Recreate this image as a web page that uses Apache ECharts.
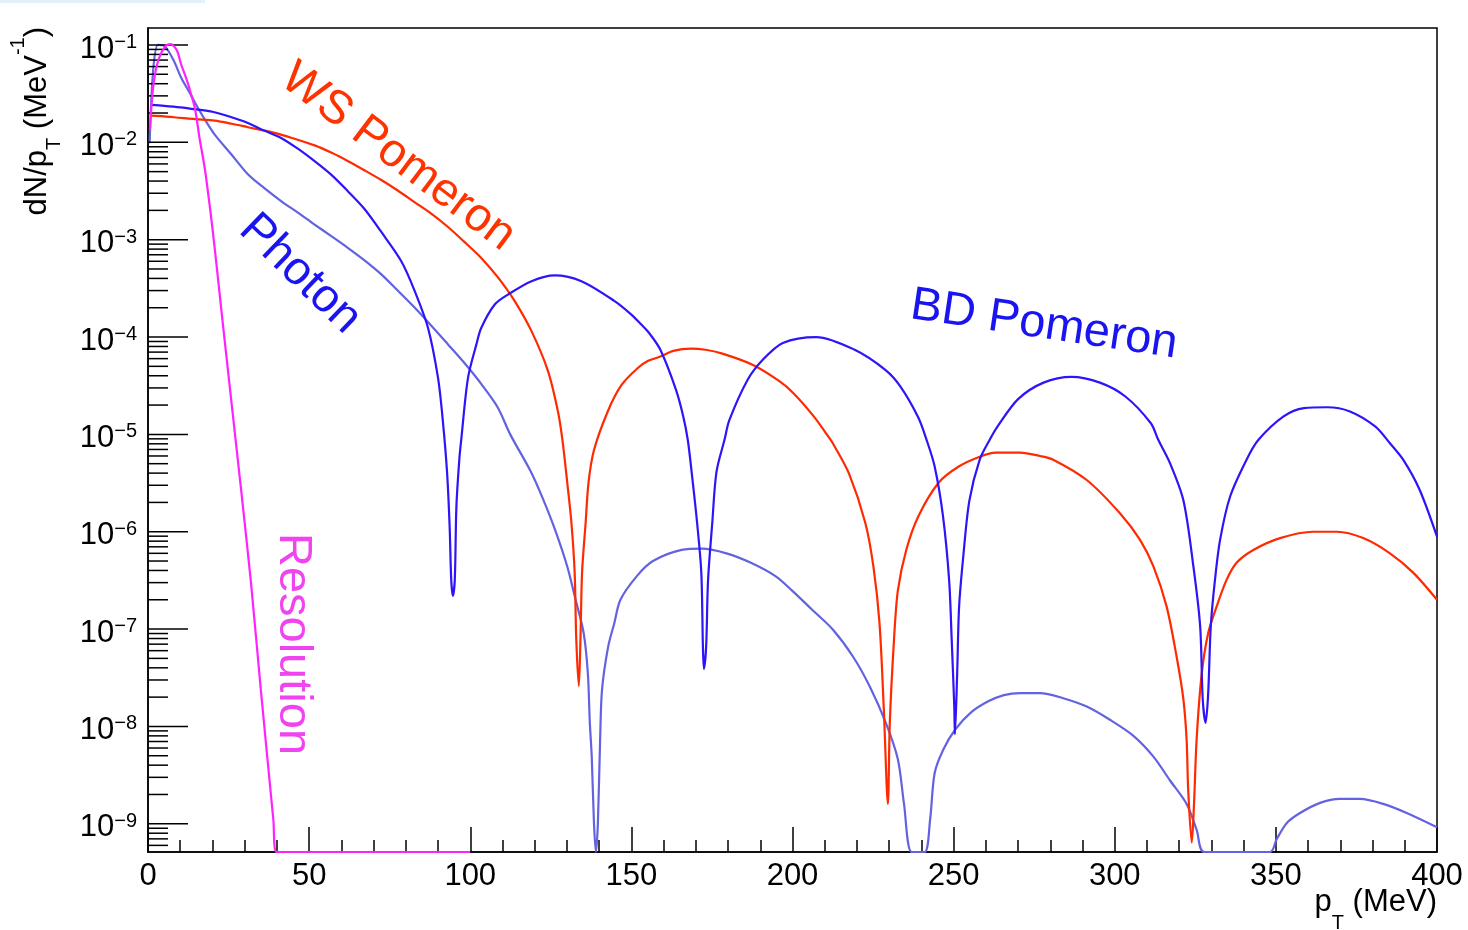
<!DOCTYPE html>
<html>
<head>
<meta charset="utf-8">
<title>dN/pT spectra</title>
<script src="https://cdn.jsdelivr.net/npm/echarts@6/dist/echarts.min.js"></script>
<style>
  html, body { margin: 0; padding: 0; background: #ffffff; }
  #chart { width: 1468px; height: 930px; }
</style>
</head>
<body>
<div id="chart"></div>
<script>
const FONT = '"Liberation Sans", Arial, Helvetica, sans-serif';

// Axis ranges (pT in MeV, dN/pT in MeV^-1)
const X_MIN = 0, X_MAX = 400, X_STEP = 50;
const Y_MIN = 5.13e-10, Y_MAX = 0.1494;
const Y_TICK_DECADES = [1e-10, 1e-9, 1e-8, 1e-7, 1e-6, 1e-5, 1e-4, 1e-3, 1e-2, 1e-1];
const MINOR_STEPS = [2, 3, 4, 5, 6, 7, 8, 9];

// [pT, dN/pT]
const WS_POMERON = [
  [1, 1.88e-2], [5, 1.85e-2], [10.3, 1.78e-2], [15, 1.73e-2], [20.7, 1.67e-2], [26, 1.55e-2],
  [31, 1.43e-2], [39.3, 1.25e-2], [45, 1.1e-2], [51.7, 9.3e-3], [57, 7.8e-3], [62.1, 6.4e-3],
  [67, 5.2e-3], [72.4, 4.1e-3], [77.5, 3.2e-3], [82.8, 2.42e-3], [88, 1.84e-3], [93.1, 1.35e-3],
  [98, 9.6e-4], [103.4, 6.5e-4], [108.6, 4.1e-4], [113.8, 2.34e-4], [119, 1.15e-4], [124.1, 4.5e-5],
  [127.2, 1.73e-5], [128.6, 8.8e-6], [130.1, 3.2e-6], [131.4, 1.23e-6], [132.4, 3.8e-7], [132.9, 7.8e-8],
  [133.7, 2.6e-8], [134.2, 7.8e-8], [134.7, 3.8e-7], [135.8, 1.23e-6], [136.7, 3.2e-6], [138.4, 6.9e-6],
  [142.7, 1.73e-5], [146.9, 3.2e-5], [152, 4.8e-5], [155.2, 5.7e-5], [159, 6.3e-5],
  [163, 7.2e-5], [168.5, 7.6e-5], [173, 7.4e-5], [178, 6.8e-5], [187.6, 5.2e-5], [195.5, 3.6e-5],
  [200.3, 2.65e-5], [206.6, 1.53e-5], [211.2, 9.4e-6], [212.9, 7.7e-6], [217.6, 3.9e-6],
  [222.6, 1.23e-6], [225.1, 4.4e-7], [227, 1.15e-7], [228.3, 1.6e-8], [229.6, 1.6e-9],
  [230.2, 1.1e-8], [231.5, 7.8e-8], [232.7, 2.5e-7], [235.3, 6.5e-7], [239.1, 1.45e-6], [245.4, 3.2e-6],
  [251.7, 4.7e-6], [258.1, 5.9e-6], [263.1, 6.5e-6], [270.7, 6.5e-6], [276.8, 6.0e-6], [280.9, 5.5e-6],
  [291.3, 3.4e-6], [301.6, 1.55e-6], [307.8, 8.3e-7], [312, 4.4e-7], [316.1, 1.7e-7], [319.2, 5.2e-8],
  [321.3, 1.9e-8], [322.3, 7.3e-9], [322.8, 2.2e-9], [323.9, 6.4e-10], [324.6, 1.6e-9], [325.4, 7.3e-9],
  [327, 3.5e-8], [329, 9.1e-8], [331.6, 1.7e-7], [334.7, 3.2e-7], [337.8, 4.8e-7], [343, 6.5e-7],
  [351.3, 8.6e-7], [361.6, 1.0e-6], [368.9, 1.0e-6], [377.1, 8.6e-7], [385.4, 6.0e-7], [392.6, 3.8e-7],
  [400, 2.0e-7]
];

const BD_POMERON = [
  [1, 2.42e-2], [5, 2.37e-2], [10, 2.29e-2], [15, 2.18e-2], [20, 2.06e-2], [25, 1.85e-2],
  [31, 1.58e-2], [36, 1.32e-2], [41.3, 1.11e-2], [46.5, 8.6e-3], [51.7, 6.4e-3], [57, 4.6e-3],
  [62, 3.15e-3], [67, 2.1e-3], [72.4, 1.2e-3], [78.6, 6.0e-4], [82.8, 2.95e-4], [86.9, 1.24e-4],
  [90, 3.8e-5], [91.5, 1.37e-5], [92.8, 4.1e-6], [93.6, 1.14e-6], [94.1, 3.2e-7], [94.6, 2.2e-7],
  [95.2, 3.2e-7], [95.7, 1.8e-6], [96.6, 5.5e-6], [97.2, 8.8e-6], [99.3, 3.8e-5], [101.9, 8.4e-5],
  [103.4, 1.24e-4], [107.6, 2.16e-4], [111.7, 2.73e-4], [119, 3.75e-4], [126.2, 4.3e-4], [134.5, 3.75e-4],
  [144.8, 2.34e-4], [150, 1.7e-4], [153, 1.35e-4], [155.5, 1.1e-4], [159, 7.4e-5], [163.8, 2.9e-5],
  [166.1, 1.53e-5], [167.5, 8.8e-6], [168.7, 4.1e-6], [170.4, 1.23e-6], [171.7, 3.8e-7], [172.2, 6.6e-8],
  [172.5, 3.9e-8], [173.2, 6.6e-8], [173.8, 3.2e-7], [175.1, 1.23e-6], [176.4, 4.1e-6], [178.9, 8.8e-6],
  [180.4, 1.4e-5], [186, 3.6e-5], [190.7, 5.8e-5], [197, 8.7e-5], [207.4, 1.0e-4], [219.3, 7.4e-5],
  [228.8, 4.6e-5], [233.5, 3.1e-5], [239, 1.5e-5], [241.6, 8.8e-6], [244.1, 4.7e-6], [246.7, 1.45e-6],
  [248.6, 3.2e-7], [249.4, 7.8e-8], [250.2, 1.6e-8], [250.4, 8.3e-9], [251.1, 3.5e-8], [251.7, 1.7e-7],
  [253, 5.6e-7], [254.9, 2.1e-6], [258.1, 5.5e-6], [261.2, 8.8e-6], [263.6, 1.2e-5], [270, 2.3e-5],
  [277.9, 3.4e-5], [286.6, 3.9e-5], [295.4, 3.4e-5], [303.3, 2.45e-5], [311.2, 1.3e-5], [313.5, 8.8e-6],
  [317.1, 5.1e-6], [321.3, 2.1e-6], [324.4, 4.4e-7], [326.5, 1.07e-7], [327.3, 1.9e-8], [328.2, 1.09e-8],
  [329, 2.2e-8], [329.8, 1.07e-7], [331.1, 3.2e-7], [332.7, 8.3e-7], [335.8, 2.3e-6], [340.9, 5.5e-6],
  [344.6, 8.8e-6], [352.4, 1.53e-5], [358.7, 1.86e-5], [365.9, 1.9e-5], [373, 1.72e-5], [380.9, 1.2e-5],
  [385.4, 8.1e-6], [389.5, 5.5e-6], [394.6, 2.7e-6], [400, 8.9e-7]
];

const PHOTON = [
  [0.5, 9.8e-3], [1.6, 5.5e-2], [3.1, 1.0e-1], [5.2, 9.7e-2], [7.9, 7.0e-2], [10.3, 4.6e-2],
  [13, 3.2e-2], [15.5, 2.25e-2], [18.2, 1.6e-2], [20.7, 1.2e-2], [25.9, 7.5e-3], [31, 4.7e-3],
  [36, 3.4e-3], [41.4, 2.48e-3], [46.5, 1.9e-3], [51.7, 1.43e-3], [57, 1.08e-3], [62.1, 8.2e-4],
  [67, 6.2e-4], [72.4, 4.4e-4], [77.5, 3.0e-4], [82.8, 2.0e-4], [88, 1.3e-4], [93.1, 8.4e-5],
  [98, 5.5e-5], [103.4, 3.3e-5], [108.5, 1.9e-5], [112.4, 1.0e-5], [118.7, 4.2e-6], [122.5, 2.2e-6],
  [126.3, 1.05e-6], [130.1, 4.4e-7], [132.7, 2.0e-7], [135.2, 9.1e-8], [136.5, 3.5e-8], [137.1, 1.1e-8],
  [137.7, 4.9e-9], [138.4, 1.0e-9], [139, 5.13e-10], [139.6, 1.0e-9], [140.3, 7.3e-9], [140.9, 2.4e-8],
  [142.8, 6.6e-8], [144.7, 1.15e-7], [146.6, 2.0e-7], [151.7, 3.5e-7], [156.7, 5.0e-7], [165.6, 6.5e-7],
  [172, 6.7e-7], [179.5, 6.0e-7], [187.1, 4.8e-7], [194.7, 3.5e-7], [199.8, 2.5e-7], [206.1, 1.58e-7],
  [212.5, 9.9e-8], [218.8, 5.2e-8], [223.9, 2.6e-8], [228.9, 1.1e-8], [232.7, 4.6e-9], [234.6, 1.6e-9],
  [237, 5.13e-10], [241, 5.13e-10], [242.7, 1.1e-9], [244.1, 3.3e-9], [246.7, 5.7e-9], [250.5, 9.3e-9],
  [255.5, 1.4e-8], [260.6, 1.8e-8], [265.6, 2.1e-8], [270.7, 2.2e-8], [276.8, 2.2e-8], [284, 1.95e-8],
  [291.3, 1.6e-8], [298.5, 1.17e-8], [305.8, 8.0e-9], [312, 4.9e-9], [317.1, 2.8e-9], [322.3, 1.6e-9],
  [325.4, 8.7e-10], [327.8, 5.13e-10], [348.2, 5.13e-10], [350.2, 6.9e-10], [353.4, 1.02e-9], [357.5, 1.29e-9],
  [363.7, 1.64e-9], [369.9, 1.8e-9], [376.1, 1.8e-9], [383.3, 1.6e-9], [390.6, 1.29e-9], [400, 9.2e-10]
];

const RESOLUTION = [
  [0.6, 1.34e-2], [1.6, 3.7e-2], [3.2, 7.0e-2], [5.3, 9.6e-2], [7, 1.02e-1], [8.9, 8.9e-2],
  [10.3, 6.3e-2], [12, 4.4e-2], [13.4, 3.1e-2], [14.6, 2.2e-2], [16, 1.1e-2], [17.6, 5.45e-3],
  [19.1, 2.3e-3], [20.7, 8.2e-4], [23, 1.6e-4], [26, 2.0e-5], [29, 2.5e-6], [32, 2.9e-7],
  [35, 2.4e-8], [38.9, 1.1e-9], [39.9, 5.13e-10], [100, 5.13e-10]
];

// Log-axis tick marks: full decades plus 2..9 sub-divisions
const yTicks = [];
Y_TICK_DECADES.forEach(function (d) {
  if (d >= Y_MIN && d <= Y_MAX) yTicks.push([X_MIN, d, 1]);
  MINOR_STEPS.forEach(function (m) {
    const v = m * d;
    if (v >= Y_MIN && v <= Y_MAX) yTicks.push([X_MIN, v, 0]);
  });
});

function decadeLabel(v) {
  const e = Math.log10(v);
  const r = Math.round(e);
  if (Math.abs(e - r) > 0.01) return '';
  return '{b|10}{s|' + (r < 0 ? '\u2212' + (-r) : r) + '}';
}

function curve(name, data, color, z) {
  return {
    name: name,
    type: 'line',
    data: data,
    showSymbol: false,
    symbol: 'none',
    smooth: 0.3,
    z: z,
    lineStyle: { color: color, width: 2.2 },
    emphasis: { disabled: true },
    animation: false
  };
}

const chart = echarts.init(document.getElementById('chart'), null, { renderer: 'canvas' });

chart.setOption({
  backgroundColor: '#ffffff',
  animation: false,
  textStyle: { fontFamily: FONT },
  grid: {
    left: 148, right: 31, top: 28, bottom: 78,
    show: true, borderColor: '#000000', borderWidth: 1.5, backgroundColor: 'transparent'
  },
  xAxis: {
    type: 'value',
    min: X_MIN, max: X_MAX, interval: X_STEP,
    axisLine: { show: true, lineStyle: { color: '#000', width: 1.5 } },
    axisTick: { show: true, inside: true, length: 25, lineStyle: { color: '#000', width: 1.5 } },
    minorTick: { show: true, splitNumber: 5, length: 12, lineStyle: { color: '#000', width: 1.5 } },
    splitLine: { show: false },
    minorSplitLine: { show: false },
    axisLabel: { fontSize: 31, color: '#000', fontFamily: FONT, margin: 9 }
  },
  yAxis: {
    type: 'log',
    logBase: 10,
    min: Y_MIN, max: Y_MAX,
    axisLine: { show: true, lineStyle: { color: '#000', width: 1.5 } },
    axisTick: { show: false },
    minorTick: { show: false },
    splitLine: { show: false },
    axisLabel: {
      showMinLabel: false,
      showMaxLabel: false,
      margin: 11,
      formatter: decadeLabel,
      rich: {
        b: { fontSize: 31, lineHeight: 31, fontFamily: FONT, color: '#000', verticalAlign: 'top', padding: [4, 0, 0, 0] },
        s: { fontSize: 20, lineHeight: 20, fontFamily: FONT, color: '#000', verticalAlign: 'top', padding: [3, 0, 0, 0] }
      }
    }
  },
  series: [
    {
      name: 'yTicks',
      type: 'custom',
      coordinateSystem: 'cartesian2d',
      silent: true,
      clip: false,
      z: 5,
      data: yTicks,
      encode: { x: 0, y: 1 },
      renderItem: function (params, api) {
        const p = api.coord([api.value(0), api.value(1)]);
        const len = api.value(2) ? 40 : 20;
        return {
          type: 'line',
          shape: { x1: p[0], y1: p[1], x2: p[0] + len, y2: p[1] },
          style: { stroke: '#000', lineWidth: 1.5 }
        };
      }
    },
    curve('Photon', PHOTON, '#6262e2', 2),
    curve('WS Pomeron', WS_POMERON, '#ff2a00', 3),
    curve('BD Pomeron', BD_POMERON, '#2e14f8', 4),
    curve('Resolution', RESOLUTION, '#ff22ff', 5)
  ],
  graphic: [
    { type: 'rect', silent: true, shape: { x: 0, y: 0, width: 205, height: 3 }, style: { fill: '#e1f0fb' } },
    {
      type: 'text', silent: true, x: 1437, y: 887,
      style: {
        text: '{n|p}{t|T}{n| (MeV)}', align: 'right', verticalAlign: 'top',
        rich: {
          n: { fontSize: 31, lineHeight: 31, fontFamily: FONT, fill: '#000', verticalAlign: 'top' },
          t: { fontSize: 20, lineHeight: 20, fontFamily: FONT, fill: '#000', verticalAlign: 'top', padding: [26, 0, 0, 0] }
        }
      }
    },
    {
      type: 'text', silent: true, x: 8, y: 27, rotation: Math.PI / 2,
      style: {
        text: '{n|dN/p}{t|T}{n| (MeV}{s|-1}{n|)}', align: 'right', verticalAlign: 'top',
        rich: {
          n: { fontSize: 31, lineHeight: 31, fontFamily: FONT, fill: '#000', verticalAlign: 'top', padding: [14, 0, 0, 0] },
          t: { fontSize: 20, lineHeight: 20, fontFamily: FONT, fill: '#000', verticalAlign: 'top', padding: [36, 0, 0, 0] },
          s: { fontSize: 20, lineHeight: 20, fontFamily: FONT, fill: '#000', verticalAlign: 'top', padding: [0, 0, 0, 0] }
        }
      }
    },
    {
      type: 'text', silent: true, x: 398, y: 157, rotation: -37 * Math.PI / 180,
      style: { text: 'WS Pomeron', fontSize: 47, fontFamily: FONT, fill: '#ff3300', align: 'center', verticalAlign: 'middle' }
    },
    {
      type: 'text', silent: true, x: 300, y: 274, rotation: -44 * Math.PI / 180,
      style: { text: 'Photon', fontSize: 47, fontFamily: FONT, fill: '#1a14f0', align: 'center', verticalAlign: 'middle' }
    },
    {
      type: 'text', silent: true, x: 1044, y: 325, rotation: -8.5 * Math.PI / 180,
      style: { text: 'BD Pomeron', fontSize: 47, fontFamily: FONT, fill: '#1a14f0', align: 'center', verticalAlign: 'middle' }
    },
    {
      type: 'text', silent: true, x: 293, y: 644, rotation: -Math.PI / 2,
      style: { text: 'Resolution', fontSize: 47, fontFamily: FONT, fill: '#f044f0', align: 'center', verticalAlign: 'middle' }
    }
  ]
});
</script>
</body>
</html>
